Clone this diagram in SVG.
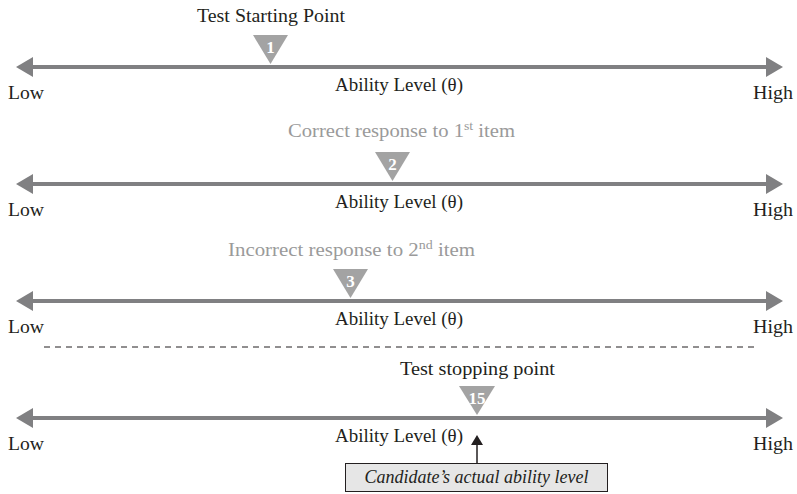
<svg xmlns="http://www.w3.org/2000/svg" width="797" height="494" viewBox="0 0 797 494">
  <style>
    text { font-family: "Liberation Serif", "DejaVu Serif", serif; fill: #231f20; }
    .title { font-size: 18px; text-anchor: middle; }
    .muted { fill: #9a9a9a; }
    .axis-label { font-size: 18px; text-anchor: middle; }
    .end { font-size: 18px; }
    .mark { fill: #a3a3a3; }
    .mark-num { font-size: 17px; font-weight: bold; fill: #ffffff; text-anchor: middle; }
    .axis { stroke: #808082; stroke-width: 4; }
    .sup { font-size: 12px; }
    .note-box { fill: #e6e6e6; stroke: #231f20; stroke-width: 1; }
    .note { font-size: 18px; font-style: italic; text-anchor: middle; }
  </style>
  <defs>
    <!-- one ability axis with arrowheads at both ends, line centred on y=0 -->
    <g id="axis-shape">
      <line class="axis" x1="30" y1="0" x2="769" y2="0"/>
      <polygon points="16,0 33,-10 33,10" fill="#808082"/>
      <polygon points="783,0 766,-10 766,10" fill="#808082"/>
    </g>
  </defs>

  <g id="axis-1" transform="translate(0,67)">
    <use href="#axis-shape"/>
    <text class="axis-label" x="399" y="24" textLength="128" lengthAdjust="spacingAndGlyphs">Ability Level (θ)</text>
    <text class="end" x="8" y="32" textLength="36" lengthAdjust="spacingAndGlyphs">Low</text>
    <text class="end" x="753" y="32" textLength="40" lengthAdjust="spacingAndGlyphs">High</text>
  </g>
  <g id="axis-2" transform="translate(0,184)">
    <use href="#axis-shape"/>
    <text class="axis-label" x="399" y="24" textLength="128" lengthAdjust="spacingAndGlyphs">Ability Level (θ)</text>
    <text class="end" x="8" y="32" textLength="36" lengthAdjust="spacingAndGlyphs">Low</text>
    <text class="end" x="753" y="32" textLength="40" lengthAdjust="spacingAndGlyphs">High</text>
  </g>
  <g id="axis-3" transform="translate(0,301)">
    <use href="#axis-shape"/>
    <text class="axis-label" x="399" y="24" textLength="128" lengthAdjust="spacingAndGlyphs">Ability Level (θ)</text>
    <text class="end" x="8" y="32" textLength="36" lengthAdjust="spacingAndGlyphs">Low</text>
    <text class="end" x="753" y="32" textLength="40" lengthAdjust="spacingAndGlyphs">High</text>
  </g>
  <g id="axis-4" transform="translate(0,418)">
    <use href="#axis-shape"/>
    <text class="axis-label" x="399" y="24" textLength="128" lengthAdjust="spacingAndGlyphs">Ability Level (θ)</text>
    <text class="end" x="8" y="32" textLength="36" lengthAdjust="spacingAndGlyphs">Low</text>
    <text class="end" x="753" y="32" textLength="40" lengthAdjust="spacingAndGlyphs">High</text>
  </g>

  <!-- item markers -->
  <g id="item-1">
    <text class="title" x="271" y="22" textLength="148" lengthAdjust="spacingAndGlyphs">Test Starting Point</text>
    <polygon class="mark" points="253,35 288,35 270.5,64"/>
    <text class="mark-num" x="270.5" y="53">1</text>
  </g>
  <g id="item-2">
    <text class="title muted" x="401.5" y="137" textLength="227" lengthAdjust="spacingAndGlyphs">Correct response to 1<tspan class="sup" dy="-7">st</tspan><tspan dy="7"> item</tspan></text>
    <polygon class="mark" points="375,152 410,152 392.5,181"/>
    <text class="mark-num" x="392.5" y="170">2</text>
  </g>
  <g id="item-3">
    <text class="title muted" x="351.5" y="256" textLength="247" lengthAdjust="spacingAndGlyphs">Incorrect response to 2<tspan class="sup" dy="-7">nd</tspan><tspan dy="7"> item</tspan></text>
    <polygon class="mark" points="333,269 368,269 350.5,298"/>
    <text class="mark-num" x="350.5" y="287">3</text>
  </g>
  <g id="item-15">
    <text class="title" x="477.5" y="375" textLength="155" lengthAdjust="spacingAndGlyphs">Test stopping point</text>
    <polygon class="mark" points="459,386 495,386 477,415"/>
    <text class="mark-num" x="477" y="404">15</text>
  </g>

  <!-- break between early items and the final one -->
  <line id="break" x1="44" y1="347" x2="756" y2="347" stroke="#231f20" stroke-width="1" stroke-dasharray="6,5"/>

  <g id="connectors">
    <line x1="477" y1="463" x2="477" y2="444" stroke="#231f20" stroke-width="1.5"/>
    <polygon points="477,435 471,445 483,445" fill="#231f20"/>
  </g>

  <g id="actual-ability">
    <rect class="note-box" x="345.5" y="463.5" width="262" height="28"/>
    <text class="note" x="476.5" y="483" textLength="224" lengthAdjust="spacingAndGlyphs">Candidate’s actual ability level</text>
  </g>
</svg>
